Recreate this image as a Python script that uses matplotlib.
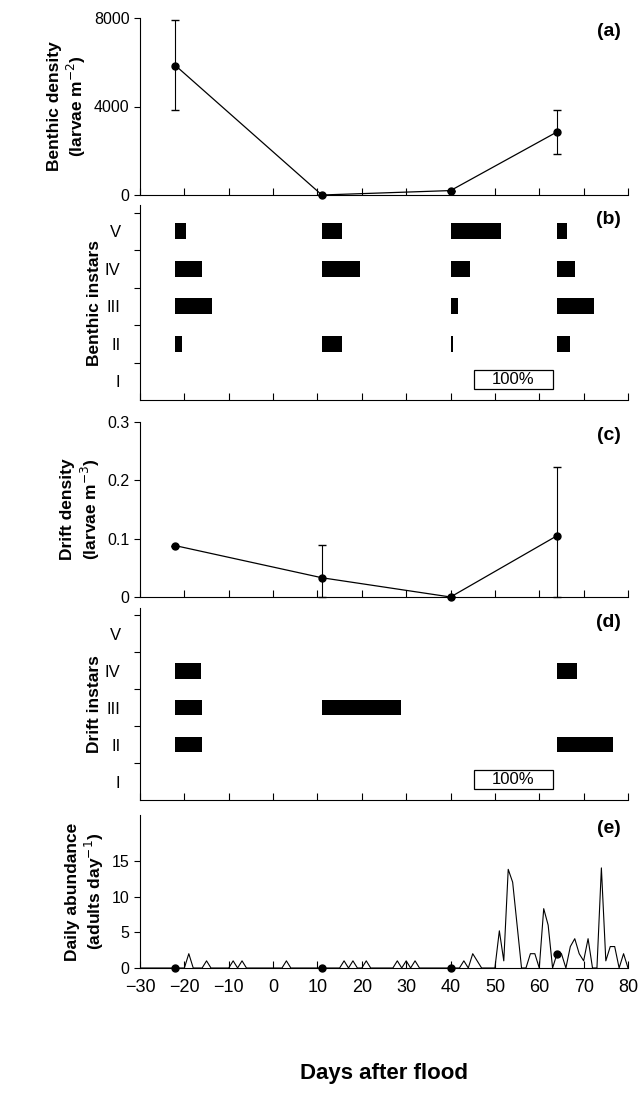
import numpy as np
import matplotlib.pyplot as plt
from matplotlib.patches import Rectangle

plt.rcParams['font.family'] = ['Liberation Sans', 'DejaVu Sans']

# sampling days
sample_days = [-22, 11, 40, 64]

# (a) benthic density
benthic = [5850, 0, 200, 2850]
benthic_err_lo = [2000, 0, 0, 1000]
benthic_err_hi = [2050, 0, 0, 1000]

# (b) benthic instar composition (%), rows: V, IV, III, II, I
benthic_instars = {
    -22: [13, 33, 46, 8, 0],
    11: [25, 48, 0, 25, 0],
    40: [63, 24, 9, 3, 0],
    64: [13, 23, 47, 16, 0],
}

# (c) drift density
drift = [0.088, 0.033, 0.0, 0.105]
drift_err_lo = [0, 0.033, 0, 0.105]
drift_err_hi = [0, 0.057, 0, 0.117]

# (d) drift instar composition (%), rows: V, IV, III, II, I
drift_instars = {
    -22: [0, 32, 33, 33, 0],
    11: [0, 0, 100, 0, 0],
    64: [0, 25, 0, 71, 0],
}

# (e) daily adult abundance
adult_days = list(range(-30, 81))
adult_peaks = {-19: 2, -15: 1, -9: 1, -7: 1, 3: 1, 16: 1, 18: 1, 21: 1,
               28: 1, 30: 1, 32: 1, 43: 1, 45: 2, 46: 1, 51: 5.2, 52: 1,
               53: 13.8, 54: 12, 55: 6, 58: 2, 59: 2, 61: 8.3, 62: 6,
               64: 2, 65: 2, 67: 3, 68: 4.1, 69: 2, 70: 1, 71: 4.1,
               74: 14, 75: 1, 76: 3, 77: 3, 79: 2}
adult = [adult_peaks.get(d, 0) for d in adult_days]
adult_marks = [0, 0, 0, 2]

instar_names = ['V', 'IV', 'III', 'II', 'I']
full_width = 17.9  # days that correspond to 100%

W, H = 642, 1094
fig = plt.figure(figsize=(W / 100, H / 100), dpi=100)
left, right = 140, 628


def make_ax(top, bottom):
    return fig.add_axes([left / W, 1 - bottom / H, (right - left) / W, (bottom - top) / H])


ax_a = make_ax(18, 195)
ax_b = make_ax(205, 400)
ax_c = make_ax(422, 597)
ax_d = make_ax(608, 800)
ax_e = make_ax(815, 968)
axes = [ax_a, ax_b, ax_c, ax_d, ax_e]

for ax in axes:
    ax.spines['top'].set_visible(False)
    ax.spines['right'].set_visible(False)
    ax.set_xlim(-30, 80)
    ax.set_xticks(np.arange(-30, 81, 10))
    ax.tick_params(axis='x', direction='in', length=5, labelbottom=False)
    ax.tick_params(axis='y', labelsize=11.5, length=4)

ylab_kw = dict(fontsize=12.5, fontweight='bold')

# (a)
ax_a.errorbar(sample_days, benthic, yerr=[benthic_err_lo, benthic_err_hi], color='black',
              marker='o', ms=5, lw=0.9, elinewidth=0.8, capsize=3, clip_on=False)
ax_a.set_ylim(0, 8000)
ax_a.set_yticks([0, 4000, 8000])
ax_a.set_ylabel('Benthic density\n(larvae m$^{-2}$)', labelpad=4, **ylab_kw)


def instar_panel(ax, data, label):
    for day, pcts in data.items():
        for i, p in enumerate(pcts):
            if p > 0:
                ax.barh(4.5 - i, p / 100 * full_width, left=day, height=0.42, color='black')
    ax.set_ylim(0, 5.2)
    ax.set_yticks([1, 2, 3, 4, 5])
    ax.set_yticklabels([])
    ax.set_yticks([4.5, 3.5, 2.5, 1.5, 0.5], minor=True)
    ax.set_yticklabels(instar_names, minor=True, fontsize=12)
    ax.tick_params(axis='y', which='minor', length=0, pad=14)
    ax.set_ylabel(label, labelpad=2, **ylab_kw)
    ax.add_patch(Rectangle((45.2, 0.3), full_width, 0.5, fc='white', ec='black', lw=0.9))
    ax.text(45.2 + full_width / 2, 0.55, '100%', ha='center', va='center', fontsize=12)


# (b)
instar_panel(ax_b, benthic_instars, 'Benthic instars')

# (c)
ax_c.errorbar(sample_days, drift, yerr=[drift_err_lo, drift_err_hi], color='black',
              marker='o', ms=5, lw=0.9, elinewidth=0.8, capsize=3, clip_on=False)
ax_c.set_ylim(0, 0.3)
ax_c.set_yticks([0, 0.1, 0.2, 0.3])
ax_c.set_yticklabels(['0', '0.1', '0.2', '0.3'])
ax_c.set_ylabel('Drift density\n(larvae m$^{-3}$)', labelpad=4, **ylab_kw)

# (d)
instar_panel(ax_d, drift_instars, 'Drift instars')

# (e)
ax_e.plot(adult_days, adult, color='black', lw=0.8)
ax_e.plot(sample_days, adult_marks, 'o', color='black', ms=5, clip_on=False)
ax_e.set_ylim(0, 21.4)
ax_e.set_yticks([0, 5, 10, 15])
ax_e.tick_params(axis='x', labelbottom=True, labelsize=13, pad=8)
ax_e.set_ylabel('Daily abundance\n(adults day$^{-1}$)', labelpad=4, **ylab_kw)
ax_e.set_xlabel('Days after flood', fontsize=16, fontweight='bold', labelpad=48)

for ax, lab in zip(axes, ['(a)', '(b)', '(c)', '(d)', '(e)']):
    ax.text(0.985, 0.97, lab, transform=ax.transAxes, ha='right', va='top',
            fontsize=14, fontweight='bold')

fig.savefig('out.png', dpi=100)
